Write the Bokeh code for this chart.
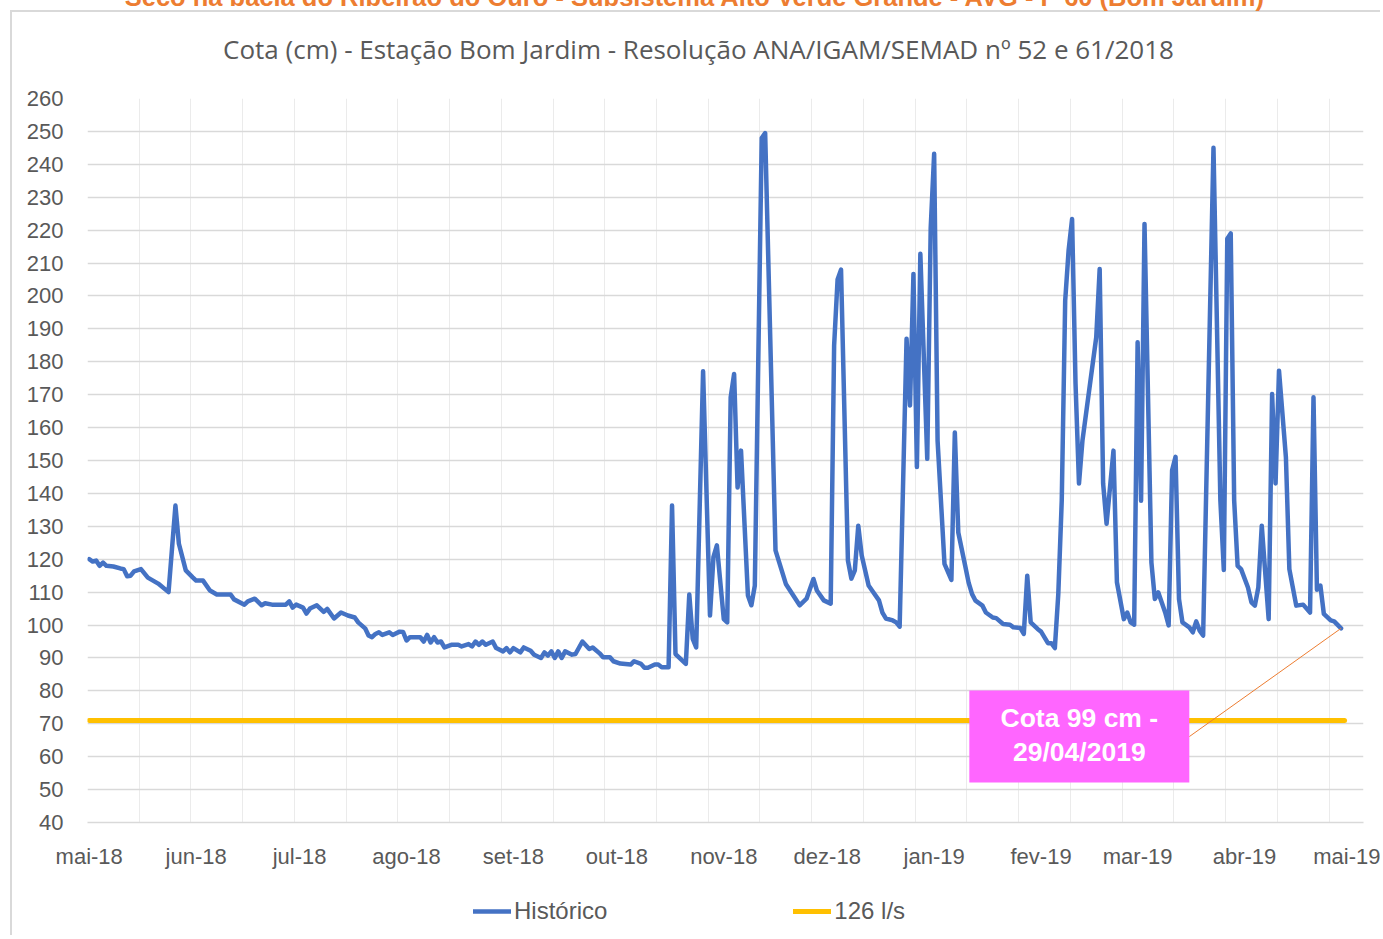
from datetime import datetime, timedelta
from bokeh.plotting import figure
from bokeh.layouts import column
from bokeh.models import (Range1d, FixedTicker, Legend, LegendItem, Label,
                          BoxAnnotation, ColumnDataSource)
from bokeh.embed import file_html
from bokeh.resources import INLINE

# ---------------- data ----------------
START = datetime(2018, 5, 1)

# day offset from 01/05/2018 and water level (cm)
hist_day = [0, 1, 2, 3, 4, 5, 7, 9, 10, 11, 12, 13, 15, 17, 18, 20, 23, 25, 26, 28,
            30, 31, 33, 35, 37, 41, 42, 45, 46, 48, 50, 51, 53, 57, 58, 59, 60, 62, 63, 64,
            66, 68, 69, 71, 73, 75, 77, 78, 80, 81, 82, 83, 84, 85, 87, 88, 90, 91, 92, 93,
            96, 97, 98, 99, 100, 101, 102, 103, 105, 107, 108, 110, 111, 112, 113, 114, 115, 117, 118, 120,
            121, 122, 123, 125, 126, 128, 129, 131, 132, 133, 134, 135, 136, 137, 138, 140, 141, 143, 145, 146,
            148, 149, 151, 152, 154, 157, 158, 160, 161, 162, 164, 165, 166, 168, 169, 170, 173, 174, 175, 176,
            178, 180, 181, 182, 184, 185, 186, 187, 188, 189, 191, 192, 193, 195, 196, 199, 202, 206, 208, 210,
            211, 213, 215, 216, 217, 218, 220, 221, 222, 223, 224, 226, 227, 229, 230, 231, 233, 234, 235, 237,
            238, 239, 240, 241, 243, 244, 245, 246, 248, 250, 251, 252, 254, 255, 256, 257, 259, 260, 262, 263,
            265, 267, 268, 270, 271, 272, 273, 275, 276, 278, 279, 280, 281, 282, 283, 284, 285, 286, 287, 288,
            292, 293, 294, 295, 297, 298, 300, 301, 302, 303, 304, 305, 306, 308, 309, 310, 312, 313, 314, 315,
            316, 317, 319, 320, 321, 322, 323, 326, 328, 329, 330, 331, 332, 333, 334, 336, 337, 338, 339, 340,
            342, 343, 344, 345, 347, 348, 350, 352, 354, 355, 356, 357, 358, 360, 361, 363]
hist_cm = [120, 119.3, 119.6, 118, 119, 118, 117.8, 117.2, 117, 114.8, 115, 116.3, 117, 114.4, 113.8, 112.6, 110, 136.3, 124.7, 116.6,
           114.5, 113.5, 113.5, 110.5, 109.3, 109.3, 107.8, 106.2, 107.2, 108, 106, 106.6, 106.2, 106.2, 107.2, 105.3, 106.2, 105.3, 103.5, 105,
           106, 104, 104.9, 102, 103.8, 102.9, 102.3, 100.8, 99, 96.8, 96.3, 97.3, 97.8, 97, 97.8, 97, 98, 97.9, 95.3, 96.3,
           96.3, 95, 97, 94.7, 96.3, 94.7, 95, 93.2, 94, 94, 93.5, 94.2, 93.5, 95, 94, 95, 94, 95, 93, 92,
           93, 91.7, 93, 91.7, 93.2, 92.2, 91, 90, 91.7, 90.7, 92, 90, 92, 90, 92, 91, 91.2, 95, 92.7, 93.2,
           91.4, 90.2, 90.2, 89, 88.3, 88, 89, 88.2, 87, 87, 88, 88, 87.2, 87.2, 136.3, 91.2, 88.2, 109.3, 95.8, 93.2,
           177.1, 102.9, 120.6, 124.2, 101.8, 100.8, 169.2, 176.3, 141.8, 153, 109, 106, 112, 248, 249.5, 122.7, 112.5, 106, 108, 114,
           110.5, 107.5, 106.5, 185, 205, 208, 119.6, 114.1, 116.6, 130.2, 121.1, 112, 110.5, 107.5, 103.8, 102, 101.4, 100.8, 99.5, 187,
           166.7, 206.7, 148, 212.8, 150.5, 220.6, 243.2, 156, 118.6, 113.7, 158.5, 128.1, 118, 112.9, 109.4, 107.4, 105.9, 103.8, 102.3, 102.1,
           100.3, 100.1, 99.3, 99.1, 97.3, 115, 100.8, 98.8, 98, 94.5, 94.5, 93, 109.4, 137.8, 198.6, 214, 223.4, 173.3, 143, 156,
           187.4, 208.2, 143, 130.8, 153, 113, 101.8, 103.8, 100.8, 100.1, 185.9, 137.8, 221.9, 119, 107.9, 109.9, 103.8, 99.9, 147, 151.1,
           107.9, 100.8, 99.3, 97.8, 101.1, 98.3, 96.8, 245, 137.8, 116.7, 217.4, 219, 137.8, 118, 117, 111.4, 106.9, 105.9, 111.4, 130.2,
           101.8, 170.2, 143, 177.3, 151, 117, 105.9, 106.2, 103.8, 169.2, 110.7, 112, 103.4, 101.4, 101.1, 99]

limit_day = [0, 364]
limit_cm = [71, 71]

month_labels = ["mai-18", "jun-18", "jul-18", "ago-18", "set-18", "out-18", "nov-18",
                "dez-18", "jan-19", "fev-19", "mar-19", "abr-19", "mai-19"]
y_ticks = list(range(40, 261, 10))

title_main = "Cota (cm) - Estação Bom Jardim - Resolução ANA/IGAM/SEMAD nº 52 e 61/2018"
title_top = "Seco na bacia do Ribeirão do Ouro - Subsistema Alto Verde Grande - AVG - P 60 (Bom Jardim)"
series_names = ["Histórico", "126 l/s"]
note_lines = ["Cota 99 cm -", "29/04/2019"]

# ---------------- helpers ----------------
EPOCH = datetime(1970, 1, 1)


def day(d):
    return START + timedelta(days=d)


def ms(dt):
    return (dt - EPOCH).total_seconds() * 1000.0


hist_dates = [day(d) for d in hist_day]
limit_dates = [day(d) for d in limit_day]

GRAY = "#595959"
TICK_FONT = "Liberation Sans"
SHIFT = 20          # layout pulled up so the top title is cut like in the original
W = 1380
FRAME_L, FRAME_R = 87, 1363           # page x of the plotting frame (shared by all rows)
TOP_H, MAIN_H, BOT_H = 90, 810, 55    # page rows: -20..70, 70..880, 880..935


def blank(height, y_top, y_bottom):
    # strip whose frame is aligned with the main chart frame; data coords = page px
    f = figure(width=W, height=height, x_range=Range1d(FRAME_L, FRAME_R),
               y_range=Range1d(y_bottom, y_top), output_backend="svg",
               toolbar_location=None, x_axis_location=None, y_axis_location=None,
               min_border=0)
    f.grid.visible = False
    f.outline_line_color = None
    f.background_fill_alpha = 0
    f.border_fill_alpha = 0
    return f


# ---------------- title strip ----------------
t = blank(TOP_H, -SHIFT, TOP_H - SHIFT)
t.add_layout(Label(x=695, y=-3.5, text=title_top, text_align="center",
                   text_baseline="alphabetic", text_font=TICK_FONT,
                   text_font_style="bold", text_font_size="25.5px",
                   text_color="#ED7D31"))
t.add_layout(Label(x=698, y=48, text=title_main, text_align="center",
                   text_baseline="middle", text_font="Open Sans",
                   text_font_size="26px", text_color=GRAY))

# ---------------- main chart ----------------
main_top = TOP_H - SHIFT
p = figure(width=W, height=MAIN_H, x_axis_type="datetime",
           x_range=Range1d(day(-0.5), day(369.5)), y_range=Range1d(40, 260),
           output_backend="svg", toolbar_location=None,
           min_border_left=FRAME_L, min_border_right=W - FRAME_R,
           min_border_top=98 - main_top, min_border_bottom=main_top + MAIN_H - 822)
p.outline_line_color = None
p.background_fill_color = "white"
p.border_fill_alpha = 0

month_starts = []
for i in range(13):
    yy = 2018 + (4 + i) // 12
    mm = (4 + i) % 12 + 1
    month_starts.append(datetime(yy, mm, 1))
xt = [ms(d) for d in month_starts]
p.xaxis.ticker = FixedTicker(ticks=xt)
p.xaxis.major_label_overrides = {tk: lab for tk, lab in zip(xt, month_labels)}
p.yaxis.ticker = FixedTicker(ticks=y_ticks)

for ax in (p.xaxis[0], p.yaxis[0]):
    ax.major_tick_line_color = None
    ax.minor_tick_line_color = None
    ax.major_label_text_font = TICK_FONT
    ax.major_label_text_font_size = "22px"
    ax.major_label_text_color = GRAY
p.yaxis.axis_line_color = None
p.xaxis.axis_line_color = "#d9d9d9"
p.xaxis.axis_line_width = 1.5
p.xaxis.major_label_standoff = 15
p.yaxis.major_label_standoff = 18

p.xgrid.ticker = FixedTicker(ticks=[ms(day(-0.5 + 15 * k)) for k in range(25)])
p.xgrid.grid_line_color = "#ebebeb"
p.xgrid.grid_line_width = 1
p.ygrid.grid_line_color = "#d9d9d9"
p.ygrid.grid_line_width = 1.5

src = ColumnDataSource(dict(date=hist_dates, cm=hist_cm))
blue_r = p.line(x="date", y="cm", source=src, line_color="#4472C4",
                line_width=4.5, line_join="round", line_cap="round")
orange_r = p.line(x=limit_dates, y=limit_cm, line_color="#FFC000",
                  line_width=5, line_cap="round")

box_l, box_r = day(255.2), day(318.99)
p.add_layout(BoxAnnotation(left=box_l, right=box_r, bottom=52.15, top=80.1,
                           fill_color="#FF66FF", fill_alpha=1.0, line_color=None))
p.segment(x0=[box_r], y0=[66.1], x1=[hist_dates[-1]], y1=[hist_cm[-1]],
          line_color="#ED7D31", line_width=1)
box_c = day(287.1)
for txt, yv in zip(note_lines, [71.9, 61.3]):
    p.add_layout(Label(x=box_c, y=yv, text=txt, text_align="center",
                       text_baseline="middle", text_color="white",
                       text_font=TICK_FONT, text_font_style="bold",
                       text_font_size="26.5px"))

# ---------------- legend strip ----------------
bot_top = main_top + MAIN_H
b = blank(BOT_H, bot_top, bot_top + BOT_H)
nan = float("nan")
lb = b.line(x=[nan], y=[nan], line_color="#4472C4", line_width=4.5, line_cap="round")
lo = b.line(x=[nan], y=[nan], line_color="#FFC000", line_width=5, line_cap="round")
legend = Legend(items=[LegendItem(label=series_names[0], renderers=[lb]),
                       LegendItem(label=series_names[1], renderers=[lo])],
                location=(473 - FRAME_L, 10), orientation="horizontal",
                glyph_width=38, glyph_height=20, label_standoff=3, spacing=186,
                padding=0, margin=0, border_line_color=None,
                background_fill_alpha=0, label_text_font=TICK_FONT,
                label_text_font_size="24px", label_text_color=GRAY)
b.add_layout(legend)

layout = column(t, p, b, spacing=0)
layout.styles = {
    "margin-top": f"-{SHIFT}px",
    "background": (f"linear-gradient(#d9d9d9, #d9d9d9) 10px {SHIFT + 10}px / 2px 100% no-repeat, "
                   f"linear-gradient(#d9d9d9, #d9d9d9) 10px {SHIFT + 10}px / 100% 2px no-repeat, white"),
}

open("out.html", "w").write(file_html(layout, INLINE))
